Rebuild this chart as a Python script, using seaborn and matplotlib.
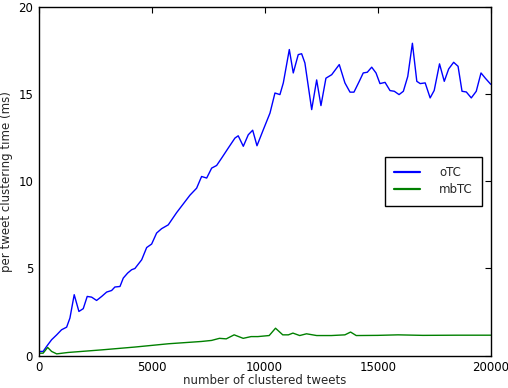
import matplotlib
matplotlib.use("Agg")
import matplotlib.pyplot as plt
import pandas as pd
import seaborn as sns

# oTC: per tweet clustering time (ms)
otc_x = [0, 200, 350, 575, 800, 1015, 1240, 1385, 1575, 1783, 1975, 2150, 2345, 2565,
         2790, 3010, 3230, 3375, 3600, 3745, 3940, 4115, 4260, 4560, 4780, 5000, 5220,
         5440, 5735, 6105, 6400, 6695, 6990, 7210, 7435, 7655, 7875, 8100, 8390, 8685,
         8830, 9055, 9275, 9470, 9660, 9940, 10235, 10455, 10675, 10825, 11090, 11265,
         11485, 11635, 11780, 12080, 12300, 12490, 12710, 12965, 13300, 13550, 13775,
         13950, 14185, 14360, 14540, 14735, 14925, 15100, 15325, 15545, 15735, 15945,
         16135, 16330, 16535, 16730, 16880, 17100, 17320, 17500, 17735, 17945, 18140,
         18360, 18555, 18730, 18920, 19140, 19360, 19570, 19760, 20000]
otc_y = [0.25, 0.25, 0.53, 0.92, 1.2, 1.49, 1.64, 2.16, 3.5, 2.54, 2.7, 3.4, 3.36, 3.17,
         3.4, 3.65, 3.74, 3.94, 3.97, 4.45, 4.74, 4.93, 5.0, 5.5, 6.2, 6.4, 7.03,
         7.28, 7.5, 8.2, 8.7, 9.2, 9.6, 10.27, 10.18, 10.75, 10.9, 11.33, 11.9, 12.47,
         12.6, 12.0, 12.66, 12.92, 12.03, 12.95, 13.9, 15.05, 14.96, 15.63, 17.54, 16.2,
         17.25, 17.3, 16.77, 14.1, 15.8, 14.33, 15.9, 16.1, 16.68, 15.63, 15.1,
         15.1, 15.72, 16.2, 16.24, 16.53, 16.2, 15.59, 15.66, 15.19, 15.15, 14.96,
         15.15, 16.0, 17.9, 15.72, 15.59, 15.63, 14.77, 15.2, 16.72, 15.72, 16.43,
         16.81, 16.58, 15.15, 15.11, 14.77, 15.15, 16.2, 15.9, 15.55]

# mbTC
mbtc_x = [0, 200, 400, 575, 800, 1300, 2800, 4250, 5750, 7200, 7650, 8000, 8300, 8650,
          9050, 9400, 9700, 10200, 10480, 10800, 11050, 11250, 11550, 11850, 12300,
          12950, 13550, 13800, 14050, 15000, 15900, 17000, 18500, 20000]
mbtc_y = [0.15, 0.15, 0.48, 0.25, 0.11, 0.19, 0.34, 0.5, 0.69, 0.82, 0.88, 1.0, 0.97, 1.2,
          1.0, 1.1, 1.1, 1.16, 1.58, 1.2, 1.2, 1.3, 1.16, 1.26, 1.16,
          1.16, 1.2, 1.36, 1.16, 1.17, 1.2, 1.17, 1.18, 1.18]

series_names = ["oTC", "mbTC"]
x_ticks = [0, 5000, 10000, 15000, 20000]
y_ticks = [0, 5, 10, 15, 20]

df = pd.concat([
    pd.DataFrame({"tweets": otc_x, "time": otc_y, "method": series_names[0]}),
    pd.DataFrame({"tweets": mbtc_x, "time": mbtc_y, "method": series_names[1]}),
])

sns.set_style("white")
plt.rcParams["font.family"] = ["DejaVu Sans"]
plt.rcParams["font.size"] = 8.5

fig = plt.figure(figsize=(5.08, 3.88), dpi=100)
ax = fig.add_axes([0.076, 0.083, 0.890, 0.900])

sns.lineplot(data=df, x="tweets", y="time", hue="method", sort=False,
             palette={"oTC": "#0000ff", "mbTC": "#008000"}, linewidth=1.0, ax=ax)

ax.set_xlim(0, 20000)
ax.set_ylim(0, 20)
ax.set_xticks(x_ticks)
ax.set_yticks(y_ticks)
ax.set_xlabel("number of clustered tweets", fontsize=8.5, labelpad=0)
ax.set_ylabel("per tweet clustering time (ms)", fontsize=8.5, labelpad=4)
ax.tick_params(direction="in", length=4, width=0.8, top=True, right=True,
               labelsize=8.5, colors="black", pad=4)
for s in ax.spines.values():
    s.set_color("black")
    s.set_linewidth(1.0)

leg = ax.legend(loc="center right", fontsize=8.5, frameon=True, fancybox=False,
                framealpha=1, edgecolor="black", handlelength=2.2,
                handletextpad=1.6, borderpad=0.8, labelspacing=0.35,
                borderaxespad=0.7)
for line in leg.get_lines():
    line.set_linewidth(1.6)

fig.savefig("out.png", dpi=100)
